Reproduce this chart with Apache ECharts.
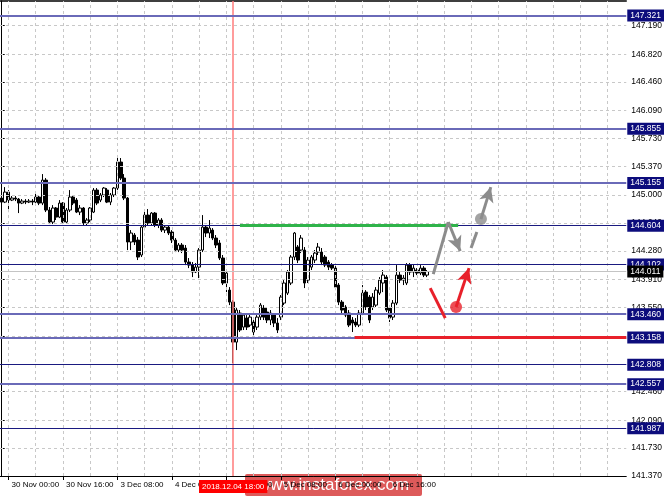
<!DOCTYPE html>
<html><head><meta charset="utf-8">
<script src="https://cdn.jsdelivr.net/npm/echarts@6/dist/echarts.min.js"></script>
<style>html,body{margin:0;padding:0;background:#fff}#c{width:665px;height:496px}</style>
</head><body><div id="c"></div>
<script>
// ---- data (H1 bars) ----
const openP = [144.961,144.909,145.038,144.935,144.961,144.948,144.896,144.922,144.909,144.922,
144.909,144.974,144.896,145.193,144.806,144.651,144.832,144.715,144.896,144.651,
144.806,144.974,144.935,144.780,144.832,144.638,144.677,144.780,145.064,144.935,
145.000,145.064,144.909,145.000,145.090,145.426,145.219,144.961,144.393,144.483,
144.418,144.225,144.586,144.741,144.638,144.767,144.612,144.677,144.547,144.586,
144.522,144.418,144.289,144.354,144.315,144.134,144.095,144.005,144.069,144.289,
144.586,144.509,144.547,144.444,144.380,144.186,143.863,143.772,143.617,143.100,
143.475,143.294,143.410,143.320,143.359,143.294,143.423,143.540,143.488,143.385,
143.449,143.346,143.423,143.604,143.733,143.863,144.199,144.328,144.289,144.289,
143.901,144.069,144.160,144.263,144.263,144.199,144.134,144.095,144.056,143.837,
143.617,143.553,143.475,143.385,143.359,143.320,143.475,143.746,143.682,143.553,
143.578,143.733,143.863,143.940,143.540,143.423,143.604,143.966,143.901,143.863,
144.095,144.005,144.031,143.992,144.056,143.966];
const closeP = [144.909,145.038,144.935,144.961,144.948,144.896,144.922,144.909,144.922,144.909,
144.974,144.896,145.193,144.806,144.651,144.832,144.715,144.896,144.651,144.806,
144.974,144.896,144.780,144.832,144.638,144.677,144.832,145.064,144.896,145.000,
145.090,144.909,145.000,145.090,145.426,145.219,144.961,144.393,144.509,144.393,
144.199,144.586,144.741,144.638,144.767,144.612,144.677,144.547,144.586,144.509,
144.418,144.289,144.354,144.289,144.134,144.095,144.005,144.069,144.289,144.586,
144.509,144.573,144.444,144.354,144.186,143.863,143.992,143.617,143.100,143.514,
143.256,143.449,143.294,143.423,143.230,143.423,143.578,143.423,143.385,143.475,
143.346,143.256,143.682,143.863,144.005,144.199,144.509,144.160,144.444,143.863,
144.160,144.199,144.250,144.328,144.134,144.095,144.069,144.056,143.811,143.617,
143.514,143.449,143.320,143.346,143.320,143.475,143.733,143.553,143.385,143.682,
143.772,143.901,143.966,143.514,143.410,143.604,143.966,143.901,143.927,144.095,
144.005,144.056,143.992,144.056,143.966,144.011];
const lowP = [144.883,144.896,144.780,144.922,144.922,144.767,144.883,144.883,144.896,144.870,
144.896,144.870,144.870,144.780,144.625,144.625,144.677,144.702,144.625,144.638,
144.780,144.870,144.767,144.741,144.612,144.612,144.651,144.767,144.870,144.909,
144.974,144.896,144.870,144.974,145.064,145.193,144.935,144.289,144.289,144.354,
144.160,144.199,144.547,144.612,144.612,144.586,144.573,144.522,144.509,144.483,
144.380,144.263,144.263,144.250,144.095,144.056,143.940,143.992,143.927,144.263,
144.457,144.444,144.418,144.315,144.160,143.837,143.746,143.578,142.829,142.997,
143.230,143.256,143.256,143.294,143.191,143.256,143.385,143.385,143.346,143.320,
143.294,143.217,143.385,143.578,143.708,143.837,144.160,144.121,144.250,143.798,
143.863,144.031,144.121,144.225,144.095,144.069,144.031,144.031,143.772,143.578,
143.475,143.423,143.294,143.230,143.294,143.294,143.449,143.514,143.346,143.514,
143.553,143.708,143.746,143.488,143.359,143.385,143.578,143.863,143.837,143.837,
143.966,143.940,143.966,143.966,143.940,143.940];
const highP = [145.000,145.103,145.064,144.987,144.987,144.961,144.948,144.948,144.948,144.948,
145.038,144.987,145.271,145.219,144.845,144.870,144.845,144.935,144.909,144.832,
145.064,145.000,144.961,144.870,144.845,144.702,144.845,145.090,145.090,145.026,
145.103,145.090,145.026,145.103,145.491,145.478,145.271,144.974,144.547,144.509,
144.457,144.612,144.806,144.819,144.780,144.780,144.702,144.702,144.612,144.612,
144.547,144.444,144.380,144.380,144.354,144.186,144.134,144.121,144.315,144.741,
144.612,144.677,144.573,144.483,144.418,144.225,144.031,143.811,143.643,143.553,
143.514,143.475,143.449,143.475,143.385,143.449,143.604,143.578,143.540,143.514,
143.475,143.410,143.708,143.901,144.031,144.225,144.522,144.354,144.483,144.328,
144.199,144.225,144.289,144.380,144.315,144.225,144.160,144.121,144.082,143.863,
143.643,143.578,143.514,143.423,143.410,143.514,143.837,143.772,143.708,143.733,
143.811,143.940,144.031,143.966,143.578,143.643,144.095,144.005,143.966,144.121,
144.121,144.095,144.056,144.095,144.082,144.031];

const barSlots = 184;                      // visible bar positions incl. right shift
const xTickIndex = [2,18,34,50,66,82,98,114];
const xTickText = ['30 Nov 00:00','30 Nov 16:00','3 Dec 08:00','4 Dec 00:00','4 Dec 16:00','5 Dec 08:00','6 Dec 00:00','6 Dec 16:00'];
const xGridIndex = [2,10,18,26,34,42,50,58,66,74,82,90,98,106,114,122,130,138,146,154,162,170,178];
const yTicks = [147.19,146.82,146.46,146.09,145.73,145.37,145.00,144.64,144.28,143.91,143.55,143.18,142.82,142.46,142.09,141.73,141.37];
const yMin = 141.37, yMax = 147.507;

const levelsLight = [147.321,145.855,145.155,143.460,143.158,142.557];
const levelsDark = [144.604,144.102,142.808,141.987];
const lastPrice = 144.011;
const markerBar = 68, markerText = '2018.12.04 18:00';

const greenLevel = [[70.0,144.604],[134.1,144.604]];
const redLevel = [[103.7,143.158],[183.5,143.158]];
const redPath = [[125.9,143.798],[130.3,143.410]];
const redArrow = [[133.5,143.553],[137.3,144.056]];
const grayPath = [[126.8,143.979],[131.2,144.651]];
const grayArrowDown = [[131.2,144.651],[134.7,144.276]];
const grayDash = [[137.9,144.315],[139.6,144.522]];
const grayArrowUp = [[140.8,144.689],[143.7,145.103]];
const redDot = [133.5,143.553];
const grayDot = [140.8,144.689];

// ---- build ----
const cats = [];
for (let i = 0; i < barSlots; i++) cats.push(String(i));
const candles = openP.map((o, i) => [o, closeP[i], lowP[i], highP[i]]);
const FONT = 'Liberation Sans';

const seg = (pts, extra) => [Object.assign({coord: pts[0], symbol: 'none'}), Object.assign({coord: pts[1]}, extra || {symbol: 'none'})];
const boxLabel = (bg) => ({show: true, position: 'end', distance: 1, formatter: (p) => Number(p.value).toFixed(3),
  backgroundColor: bg, color: '#fff', fontSize: 8.5, fontFamily: FONT, padding: [2,3,1,3]});

const chart = echarts.init(document.getElementById('c'), null, {renderer: 'canvas'});
chart.setOption({
  animation: false,
  backgroundColor: '#ffffff',
  grid: {left: 0, right: 36, top: 1, bottom: 20, containLabel: false},
  xAxis: [{
    type: 'category', data: cats, boundaryGap: true, position: 'bottom',
    axisLine: {show: true, lineStyle: {color: '#000', width: 1}},
    axisTick: {show: true, alignWithLabel: true, length: 4, lineStyle: {color: '#000'},
      interval: (i) => xTickIndex.includes(i)},
    axisLabel: {show: true, interval: (i) => xTickIndex.includes(i), align: 'left', margin: 5,
      padding: [0,0,0,3], color: '#000', fontSize: 8, fontFamily: FONT,
      formatter: (v) => { const k = xTickIndex.indexOf(Number(v)); return k >= 0 ? xTickText[k] : ''; }},
    splitLine: {show: false}
  }, {
    type: 'value', min: -0.5, max: barSlots - 0.5, position: 'top',
    axisLine: {show: true, onZero: false, lineStyle: {color: '#000', width: 1.5}},
    axisTick: {show: false}, axisLabel: {show: false}, splitLine: {show: false}
  }],
  yAxis: {
    type: 'value', position: 'right', min: yMin, max: yMax, scale: true,
    axisLine: {show: true, lineStyle: {color: '#000', width: 1}},
    axisTick: {show: true, length: 3, customValues: yTicks, lineStyle: {color: '#000'}},
    axisLabel: {show: true, customValues: yTicks, margin: 5, color: '#000', fontSize: 8.5, fontFamily: FONT,
      formatter: (v) => v.toFixed(3)},
    splitLine: {show: false}
  },
  series: [
    { // horizontal grid
      type: 'line', data: [], z: 1, silent: true,
      markLine: {silent: true, symbol: 'none', precision: 3, label: {show: false},
        lineStyle: {color: '#c8c8c8', type: [3,3], width: 1},
        data: yTicks.filter(v => v > yMin).map(v => ({yAxis: v}))}
    },
    { // vertical grid
      type: 'line', xAxisIndex: 1, data: [], z: 1, silent: true,
      markLine: {silent: true, symbol: 'none', precision: 3, label: {show: false},
        lineStyle: {color: '#c8c8c8', type: [3,3], width: 1},
        data: xGridIndex.map(v => ({xAxis: v}))}
    },
    { // marker vertical line
      type: 'line', data: [], z: 2, silent: true,
      markLine: {silent: true, symbol: 'none',
        lineStyle: {color: '#ff7b7b', type: 'solid', width: 1.5},
        label: {show: true, position: 'start', distance: 4, formatter: markerText,
          backgroundColor: '#ff0000', color: '#fff', fontSize: 8, fontFamily: FONT, padding: [3,3,2,3]},
        data: [{xAxis: String(markerBar)}]}
    },
    {
      type: 'candlestick', data: candles, z: 3, barWidth: 3,
      itemStyle: {color: '#ffffff', color0: '#000000', borderColor: '#000000', borderColor0: '#000000', borderWidth: 1}
    },
    { // light levels
      type: 'line', data: [], z: 4, silent: true,
      markLine: {silent: true, symbol: 'none', precision: 3,
        lineStyle: {color: '#6a6ab8', type: 'solid', width: 2},
        label: boxLabel('#0c0c7c'),
        data: levelsLight.map(v => ({yAxis: v}))}
    },
    { // dark levels
      type: 'line', data: [], z: 4, silent: true,
      markLine: {silent: true, symbol: 'none', precision: 3,
        lineStyle: {color: '#1a1a80', type: 'solid', width: 1},
        label: boxLabel('#0c0c7c'),
        data: levelsDark.map(v => ({yAxis: v}))}
    },
    { // current price line (label drawn above level labels)
      type: 'line', data: [], z: 5, silent: true,
      markLine: {silent: true, symbol: 'none', precision: 3,
        lineStyle: {color: '#c4c4c4', type: 'solid', width: 1},
        label: boxLabel('#000000'),
        data: [{yAxis: lastPrice}]}
    },
    { // green level
      type: 'line', xAxisIndex: 1, data: [], z: 5, silent: true,
      markLine: {silent: true, symbol: 'none', precision: 3, label: {show: false},
        lineStyle: {color: '#2fb34a', width: 3, type: 'solid'},
        data: [seg(greenLevel)]}
    },
    { // red level
      type: 'line', xAxisIndex: 1, data: [], z: 5, silent: true,
      markLine: {silent: true, symbol: 'none', precision: 3, label: {show: false},
        lineStyle: {color: '#e8202a', width: 3, type: 'solid'},
        data: [seg(redLevel)]}
    },
    { // red scenario
      type: 'line', xAxisIndex: 1, data: [], z: 6, silent: true,
      markLine: {silent: true, precision: 3, label: {show: false}, symbolSize: [11, 15],
        lineStyle: {color: '#e8202a', width: 3, type: 'solid'},
        data: [seg(redPath), seg(redArrow, {symbol: 'arrow'})]}
    },
    { // gray scenario
      type: 'line', xAxisIndex: 1, data: [], z: 6, silent: true,
      markLine: {silent: true, precision: 3, label: {show: false}, symbolSize: [11, 15],
        lineStyle: {color: '#8c8c8c', width: 3, type: 'solid'},
        data: [seg(grayPath), seg(grayArrowDown, {symbol: 'arrow'}), seg(grayDash), seg(grayArrowUp, {symbol: 'arrow'})]}
    },
    {
      type: 'scatter', xAxisIndex: 1, z: 7, silent: true, symbolSize: 12,
      data: [{value: redDot, itemStyle: {color: '#e8202a'}}, {value: grayDot, itemStyle: {color: '#8c8c8c'}}]
    }
  ],
  graphic: [{
    type: 'group', left: 245, top: 474, z: 100,
    children: [
      {type: 'rect', shape: {x: 0, y: 0, width: 177, height: 22, r: 2}, style: {fill: 'rgba(214,58,58,0.84)'}},
      {type: 'text', x: 88.5, y: 11, style: {text: 'www.instaforex.com', fill: '#ffffff', font: '17px "Liberation Sans"', align: 'center', verticalAlign: 'middle'}}
    ]
  }]
});
</script>
</body></html>
